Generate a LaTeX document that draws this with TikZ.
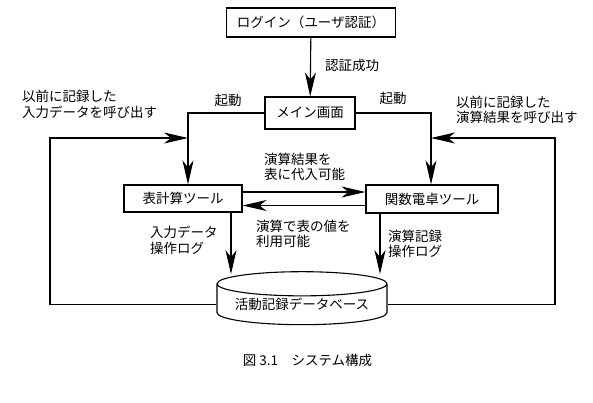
\documentclass[tikz,border=0pt]{standalone}
\usepackage{fontspec}
\setmainfont{Noto Sans CJK JP}
\usetikzlibrary{arrows.meta, positioning, shapes.geometric, calc}
\tikzset{
    box/.style={draw, line width=1.1pt, minimum height=28pt, inner sep=0pt,
        font=\fontsize{13.5}{16}\selectfont},
    dbcyl/.style={draw, line width=1.1pt, shape=cylinder, shape border rotate=90,
        aspect=0.18, minimum width=170pt, minimum height=53pt, inner sep=0pt,
        font=\fontsize{13.5}{16}\selectfont},
    lbl/.style={inner sep=0pt, align=left, font=\fontsize{13.5}{15.5}\selectfont},
    flow/.style={line width=1.1pt, -{Stealth[length=24pt, width=11pt, inset=7pt]}}
}

\begin{document}
\begin{tikzpicture}[x=1pt, y=-1pt]
\useasboundingbox (0,0) rectangle (593,402);

% Cajas principales.
\node[box, minimum width=169pt, minimum height=29pt] (login) at (311,22.5) {ログイン（ユーザ認証）};
\node[box, minimum width=90pt, minimum height=32pt] (main) at (310,113) {メイン画面};
\node[box, minimum width=118pt, minimum height=27pt] (calc) at (183,198.5) {表計算ツール};
\node[box, minimum width=132pt] (func) at (432,199) {関数電卓ツール};
\node[dbcyl] (db) at (302,304.5) {\raisebox{-4pt}{活動記録データベース}};

% Columnas de las flechas verticales y esquinas de los lazos.
\coordinate (calcIn) at (188,0);
\coordinate (calcOut) at (231,0);
\coordinate (funcIn) at (431,0);
\coordinate (funcOut) at (380,0);
\coordinate (loopL) at (50,138);
\coordinate (loopR) at (555,138);

% Flechas.
\draw[flow] (login) -- (main);
\draw[flow] (main.west) -| (calc.north -| calcIn);
\draw[flow] (main.east) -| (func.north -| funcIn);
\draw[flow] ([yshift=6.5pt]calc.east) -- ([yshift=6.5pt]calc.east -| func.west);
\draw[flow] ([yshift=-6.5pt]func.west) -- ([yshift=-6.5pt]func.west -| calc.east);
\draw[flow] (calc.south -| calcOut) -- ($(db.north -| calcOut)+(0,3)$);
\draw[flow] (func.south -| funcOut) -- ($(db.north -| funcOut)+(0,3)$);
\draw[flow] (db.west) -| (loopL) -- (loopL -| calcIn);
\draw[flow] (db.east) -| (loopR) -- (loopR -| funcIn);

% Etiquetas.
\node[lbl, anchor=west] (authOk) at (325,65) {認証成功};
\node[lbl] (startL) at (228,100) {起動};
\node[lbl] (startR) at (393,98) {起動};
\node[lbl, anchor=west] (recallIn) at (22,104.5) {以前に記録した\\入力データを呼び出す};
\node[lbl, anchor=west] (recallRes) at (456,110) {以前に記録した\\演算結果を呼び出す};
\node[lbl, anchor=west] (toTable) at (264,167) {演算結果を\\表に代入可能};
\node[lbl, anchor=west] (fromTable) at (256,234) {演算で表の値を\\利用可能};
\node[lbl, anchor=west] (calcLog) at (150,240.5) {入力データ\\操作ログ};
\node[lbl, anchor=west] (funcLog) at (388,244) {演算記録\\操作ログ};
\node[lbl] (caption) at (307.5,360) {図 3.1　システム構成};

\end{tikzpicture}
\end{document}
